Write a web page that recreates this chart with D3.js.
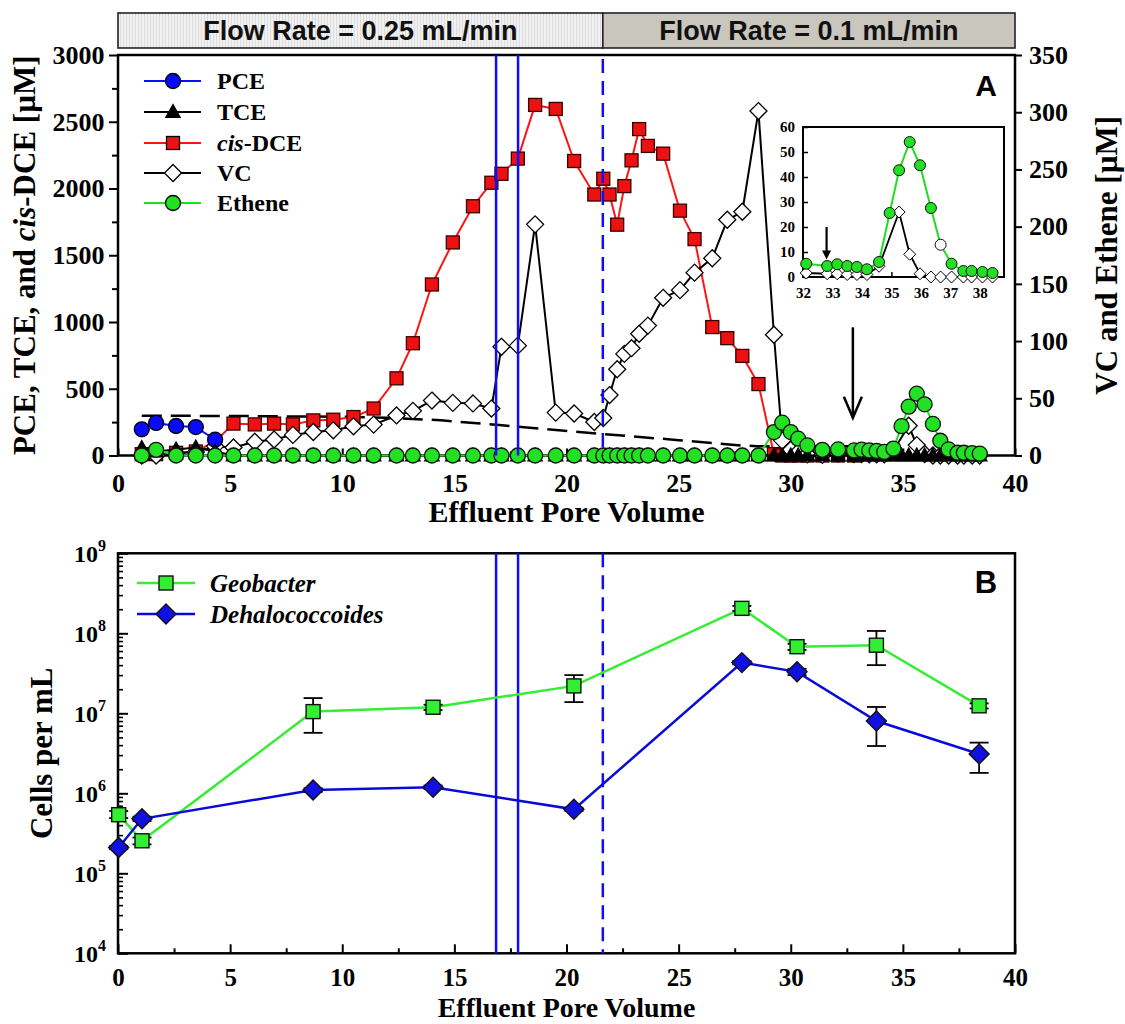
<!DOCTYPE html>
<html><head><meta charset="utf-8">
<script src="https://cdn.jsdelivr.net/npm/d3@7"></script>
<style>body{margin:0;background:#fff}</style>
</head><body>
<svg id="chart" width="1125" height="1024"></svg>
<script>
// ---------------- DATA ----------------
// Panel A sample positions (effluent pore volume)
const xs = [1.06,1.7,2.59,3.47,4.33,5.15,6.1,6.96,7.8,8.71,
  9.6,10.5,11.4,12.42,13.15,14.0,14.93,15.83,16.65,17.1,
  17.83,18.6,19.52,20.34,21.24,21.64,21.92,22.26,22.58,22.9,
  23.24,23.63,24.31,25.06,25.71,26.5,27.17,27.84,28.56,29.25,
  29.62,30.0,30.33,30.74,31.41,32.11,32.82,33.16,33.5,33.83,
  34.17,34.58,34.94,35.26,35.62,35.97,36.34,36.67,37.04,37.44,
  37.72,38.09,38.43];
const pceVals = [196,244,221,213,118];
const tceVals = [55,30,45,60,30,0,0,0,0,0,
  0,0,0,0,0,0,0,0,0,0, 0,0,0,0,0,0,0,0,0,0,
  0,0,0,0,0,0,0,0,0,0, 0,0,0,0,0,0,0,0,0,0,
  0,0,0,0,0,0,0,0,0,0, 0,0,0];
const dceVals = [10,10,20,30,105,239,233,239,233,263,
  268,288,352,578,841,1281,1596,1867,2043,2110,
  2224,2626,2596,2206,1955,2073,1955,1729,2018,2211,
  2445,2319,2261,1834,1621,962,879,746,535,10,
  0,0,0,0,0,0,0,null,null,null, null,null,null,null,null,null,null,null,null,null, null,null,null];
const vcVals = [0,0,2,3,8,7,12,14,18,20.5,
  22,25.5,27,35,39,48,46,45.5,41,95,
  96,202,37.5,36.7,29.3,32.8,52.8,75.4,88.8,93.8,
  106.4,113.5,137.8,144.5,159.8,172.4,206,213,301,105.5,
  13,5,3,1,0.5,1.6,1.3,1.3,1,1,
  1,4.3,null,26,9.1,1.3,0,0,0,0, 0,0,0];
const etheneVals = [0,5,0,0,0,0,0,0,0,0,
  0,0,0,0,0,0,0,0,0,0, 0,0,0,0,0,0,0,0,0,0,
  0,0,0,0,0,0,0,0,0,20.5,
  28.7,20.5,14.7,8.8,5,5.3,4.4,5.1,4.4,4.0,
  3.1,6.0,25.6,42.7,54,44.7,27.6,12.9,5.3,2.4,
  2.4,2.0,1.6];
const dashX = [1.06,5,10,12,14.4,17,21.5,25,27.8,28.5,34.6];
const dashY = [298,296,290,282,264,228,163,115,75,70,70];
const solidLinesX = [16.86,17.84];
const flowChangeX = 21.62;
const flowLabels = ["Flow Rate = 0.25 mL/min","Flow Rate = 0.1 mL/min"];
const arrowMainX = 32.77, arrowMainY = [112,33];
const arrowInsetX = 32.8, arrowInsetY = [20,7];
const insetOpenX = [36.67];
const leftTicks = [0,500,1000,1500,2000,2500,3000];
const leftMinor = [250,750,1250,1750,2250,2750];
const rightTicks = [0,50,100,150,200,250,300,350];
const xTicks = [0,5,10,15,20,25,30,35,40];
const xMinor = [2.5,7.5,12.5,17.5,22.5,27.5,32.5,37.5];
const insetXTicks = [32,33,34,35,36,37,38];
const insetYTicks = [0,10,20,30,40,50,60];
const legendA = ["PCE","TCE","cis-DCE","VC","Ethene"];
// Panel B
const cellX = [0.03,1.07,8.7,14.05,20.33,27.82,30.28,33.82,38.4];
const geoVals = [5.4e5,2.55e5,1.05e7,1.19e7,2.2e7,2.05e8,6.8e7,7.1e7,1.24e7];
const geoLo   = [4.9e5,2.3e5,5.7e6,1.1e7,1.38e7,1.9e8,6.2e7,4.0e7,1.15e7];
const geoHi   = [6.0e5,2.8e5,1.55e7,1.28e7,3.0e7,2.2e8,7.4e7,1.07e8,1.33e7];
const dhcVals = [2.1e5,4.8e5,1.1e6,1.19e6,6.3e5,4.3e7,3.3e7,8.0e6,3.1e6];
const dhcLo   = [2.0e5,4.5e5,1.04e6,1.13e6,6.0e5,4.1e7,3.0e7,3.9e6,1.8e6];
const dhcHi   = [2.2e5,5.1e5,1.16e6,1.25e6,6.6e5,4.5e7,3.6e7,1.2e7,4.3e6];
const logTicks = [1e4,1e5,1e6,1e7,1e8,1e9];
const legendB = ["Geobacter","Dehalococcoides"];

// ---------------- SETUP ----------------
const SERIF = "'Liberation Serif','Times New Roman',serif";
const SANS = "'Liberation Sans',Arial,sans-serif";
const svg = d3.select("#chart");

const x = d3.scaleLinear().domain([0,40]).range([118,1015]);
const yL = d3.scaleLinear().domain([0,3000]).range([455.5,55]);
const yR = d3.scaleLinear().domain([0,350]).range([455.5,55]);
const yB = d3.scaleLog().domain([1e4,1e9]).range([953.3,553.3]);
const xI = d3.scaleLinear().domain([32,38.82]).range([803,1004]);
const yI = d3.scaleLinear().domain([0,60]).range([277,127]);

const C = {
  red:"#ff1414", redFill:"#ee1111", green:"#22dd22", greenFill:"#22e022",
  blue:"#0c0cff", gGreen:"#33ee33", gBlue:"#0a0ad8"
};

function styleAxis(g, size){
  g.select(".domain").remove();
  g.selectAll(".tick line").attr("stroke","#000").attr("stroke-width",2);
  g.selectAll(".tick text").attr("font-family",SERIF).attr("font-weight","bold")
    .attr("font-size",size).attr("fill","#000");
}

function pts(xv, yv){
  const out=[];
  for(let i=0;i<yv.length;i++){ if(yv[i]!==null && yv[i]!==undefined) out.push([xv[i],yv[i]]); }
  return out;
}

function drawMarker(g, type, cx, cy, s, fill, stroke, sw){
  let el;
  if(type==="circle") el = g.append("circle").attr("cx",cx).attr("cy",cy).attr("r",s);
  else if(type==="square") el = g.append("rect").attr("x",cx-s).attr("y",cy-s).attr("width",2*s).attr("height",2*s);
  else if(type==="diamond") el = g.append("path").attr("d",`M${cx},${cy-s}L${cx+s},${cy}L${cx},${cy+s}L${cx-s},${cy}Z`);
  else if(type==="triangle") el = g.append("path").attr("d",`M${cx},${cy-s}L${cx+s*0.95},${cy+s*0.7}L${cx-s*0.95},${cy+s*0.7}Z`);
  el.attr("fill",fill).attr("stroke",stroke).attr("stroke-width",sw||1.3);
  return el;
}

function series(g, data, xs_, ys_, color, lw, type, s, fill, stroke){
  const line = d3.line().x(d=>xs_(d[0])).y(d=>ys_(d[1]));
  g.append("path").datum(data).attr("d",line).attr("fill","none")
    .attr("stroke",color).attr("stroke-width",lw).attr("stroke-linejoin","round");
  data.forEach(d=>drawMarker(g,type,xs_(d[0]),ys_(d[1]),s,fill,stroke));
}

// ---------------- BANNER ----------------
const defs = svg.append("defs");
const pat = defs.append("pattern").attr("id","stripes").attr("patternUnits","userSpaceOnUse")
  .attr("width",3).attr("height",10);
pat.append("rect").attr("width",3).attr("height",10).attr("fill","#f1f1f1");
pat.append("line").attr("x1",0.5).attr("x2",0.5).attr("y1",0).attr("y2",10).attr("stroke","#dcdcdc").attr("stroke-width",1);

svg.append("rect").attr("x",x(0)).attr("y",13).attr("width",x(flowChangeX)-x(0)).attr("height",35)
  .attr("fill","url(#stripes)").attr("stroke","#222").attr("stroke-width",1.6);
svg.append("rect").attr("x",x(flowChangeX)).attr("y",13).attr("width",x(40)-x(flowChangeX)).attr("height",35)
  .attr("fill","#c9c6be").attr("stroke","#222").attr("stroke-width",1.6);
[[x(0),x(flowChangeX)],[x(flowChangeX),x(40)]].forEach((r,i)=>{
  svg.append("text").attr("x",(r[0]+r[1])/2).attr("y",40).attr("text-anchor","middle")
    .attr("font-family",SANS).attr("font-weight","bold").attr("font-size",27).attr("fill","#111")
    .text(flowLabels[i]);
});

// ---------------- PANEL A ----------------
const gA = svg.append("g");
gA.append("rect").attr("x",x(0)).attr("y",yL(3000)).attr("width",x(40)-x(0)).attr("height",yL(0)-yL(3000))
  .attr("fill","none").attr("stroke","#000").attr("stroke-width",2.5);

let ax = gA.append("g").attr("transform",`translate(${x(0)},0)`)
  .call(d3.axisLeft(yL).tickValues(leftTicks).tickSize(9).tickPadding(4.5).tickFormat(d3.format("d")));
styleAxis(ax,26);
ax = gA.append("g").attr("transform",`translate(${x(0)},0)`)
  .call(d3.axisLeft(yL).tickValues(leftMinor).tickSize(6).tickFormat(""));
styleAxis(ax,26);
ax = gA.append("g").attr("transform",`translate(${x(40)},0)`)
  .call(d3.axisRight(yR).tickValues(rightTicks).tickSize(7).tickPadding(7).tickFormat(d3.format("d")));
styleAxis(ax,26);
ax = gA.append("g").attr("transform",`translate(0,${yL(0)})`)
  .call(d3.axisBottom(x).tickValues(xTicks).tickSizeInner(-7).tickSizeOuter(0).tickFormat(d3.format("d")));
styleAxis(ax,26);
ax.selectAll(".tick text").attr("y",36).attr("dy",null);
ax = gA.append("g").attr("transform",`translate(0,${yL(0)})`)
  .call(d3.axisBottom(x).tickValues(xMinor).tickSizeInner(-4).tickSizeOuter(0).tickFormat(""));
styleAxis(ax,26);

// dashed reference line
gA.append("path").datum(dashX.map((d,i)=>[d,dashY[i]]))
  .attr("d",d3.line().x(d=>x(d[0])).y(d=>yL(d[1])))
  .attr("fill","none").attr("stroke","#000").attr("stroke-width",2.5).attr("stroke-dasharray","20,9");

series(gA, pts(xs,dceVals), x, yL, C.red, 2, "square", 6.5, C.redFill, "#3a0000");
series(gA, pts(xs,vcVals), x, yR, "#000", 2, "diamond", 8.5, "#fff", "#000");
series(gA, pts(xs,pceVals), x, yL, C.blue, 2, "circle", 7.5, "#0a0aff", "#000");
series(gA, pts(xs,tceVals), x, yL, "#000", 2, "triangle", 7.5, "#000", "#000");
series(gA, pts(xs,etheneVals), x, yR, C.green, 2, "circle", 7.5, C.greenFill, "#111");

// vertical lines
solidLinesX.forEach(v=>{
  gA.append("line").attr("x1",x(v)).attr("x2",x(v)).attr("y1",yL(3000)).attr("y2",yL(0))
    .attr("stroke",C.blue).attr("stroke-width",2.5);
});
gA.append("line").attr("x1",x(flowChangeX)).attr("x2",x(flowChangeX)).attr("y1",yL(3000)+4).attr("y2",yL(0))
  .attr("stroke",C.blue).attr("stroke-width",2.5).attr("stroke-dasharray","14,8");

// main arrow
{
  const ax0 = x(arrowMainX), y0 = yR(arrowMainY[0]), y1 = yR(arrowMainY[1]);
  gA.append("line").attr("x1",ax0).attr("x2",ax0).attr("y1",y0).attr("y2",y1)
    .attr("stroke","#000").attr("stroke-width",2.5);
  gA.append("path").attr("d",`M${ax0-9},${y1-21}L${ax0},${y1}L${ax0+9},${y1-21}`)
    .attr("fill","none").attr("stroke","#000").attr("stroke-width",2.5);
}

// "A"
gA.append("text").attr("x",986).attr("y",96).attr("text-anchor","middle")
  .attr("font-family",SANS).attr("font-weight","bold").attr("font-size",30).text("A");

// inset
const gI = svg.append("g");
gI.append("rect").attr("x",xI(32)).attr("y",yI(60)).attr("width",xI(38.82)-xI(32)).attr("height",yI(0)-yI(60))
  .attr("fill","#fff").attr("stroke","#000").attr("stroke-width",2);
ax = gI.append("g").attr("transform",`translate(${xI(32)},0)`)
  .call(d3.axisLeft(yI).tickValues(insetYTicks).tickSize(-5).tickPadding(8).tickFormat(d3.format("d")));
styleAxis(ax,15); ax.selectAll(".tick line").attr("stroke-width",1.5);
ax = gI.append("g").attr("transform",`translate(0,${yI(0)})`)
  .call(d3.axisBottom(xI).tickValues(insetXTicks).tickSizeInner(-5).tickSizeOuter(0).tickFormat(d3.format("d")));
styleAxis(ax,15); ax.selectAll(".tick line").attr("stroke-width",1.5);
ax.selectAll(".tick text").attr("y",21).attr("dy",null);

const inDom = d=>d[0]>=32 && d[0]<=38.82;
{
  const vcIn = pts(xs,vcVals).filter(inDom);
  const etIn = pts(xs,etheneVals).filter(inDom);
  const line = d3.line().x(d=>xI(d[0])).y(d=>yI(d[1]));
  gI.append("path").datum(vcIn).attr("d",line).attr("fill","none").attr("stroke","#000").attr("stroke-width",1.8);
  vcIn.forEach(d=>drawMarker(gI,"diamond",xI(d[0]),yI(d[1]),6,"#fff","#000",1));
  gI.append("path").datum(etIn).attr("d",line).attr("fill","none").attr("stroke",C.green).attr("stroke-width",2);
  etIn.forEach(d=>{
    const open = insetOpenX.some(o=>Math.abs(o-d[0])<0.01);
    drawMarker(gI,"circle",xI(d[0]),yI(d[1]),5.5,open?"#fff":C.greenFill,"#111",1);
  });
  const axx = xI(arrowInsetX), ya = yI(arrowInsetY[0]), yb = yI(arrowInsetY[1]);
  gI.append("line").attr("x1",axx).attr("x2",axx).attr("y1",ya).attr("y2",yb-6).attr("stroke","#000").attr("stroke-width",2.2);
  gI.append("path").attr("d",`M${axx-4.5},${yb-9}L${axx},${yb}L${axx+4.5},${yb-9}Z`).attr("fill","#000");
}

// legend A
{
  const rows = [81,112,143,173,203];
  const specs = [
    {c:C.blue,t:"circle",s:7.5,f:"#0a0aff"},
    {c:"#000",t:"triangle",s:7.5,f:"#000"},
    {c:C.red,t:"square",s:6.5,f:C.redFill},
    {c:"#000",t:"diamond",s:8.5,f:"#fff"},
    {c:C.green,t:"circle",s:7.5,f:C.greenFill}
  ];
  legendA.forEach((name,i)=>{
    const y = rows[i], sp = specs[i];
    gA.append("line").attr("x1",144).attr("x2",201).attr("y1",y).attr("y2",y).attr("stroke",sp.c).attr("stroke-width",2);
    drawMarker(gA,sp.t,173,y,sp.s,sp.f,"#000");
    const t = gA.append("text").attr("x",217).attr("y",y+8).attr("font-family",SERIF)
      .attr("font-weight","bold").attr("font-size",24);
    if(name.startsWith("cis")){
      t.append("tspan").attr("font-style","italic").text("cis");
      t.append("tspan").text(name.slice(3));
    } else t.text(name);
  });
}

// axis titles A
{
  const t = svg.append("text").attr("transform",`translate(35,${(yL(0)+yL(3000))/2}) rotate(-90)`)
    .attr("text-anchor","middle").attr("font-family",SERIF).attr("font-weight","bold").attr("font-size",31);
  t.append("tspan").text("PCE, TCE, and ");
  t.append("tspan").attr("font-style","italic").text("cis");
  t.append("tspan").text("-DCE [\u00B5M]");
  svg.append("text").attr("transform",`translate(1117,${(yL(0)+yL(3000))/2}) rotate(-90)`)
    .attr("text-anchor","middle").attr("font-family",SERIF).attr("font-weight","bold").attr("font-size",31)
    .text("VC and Ethene [\u00B5M]");
  svg.append("text").attr("x",(x(0)+x(40))/2).attr("y",522).attr("text-anchor","middle")
    .attr("font-family",SERIF).attr("font-weight","bold").attr("font-size",30).text("Effluent Pore Volume");
}

// ---------------- PANEL B ----------------
const gB = svg.append("g");
gB.append("rect").attr("x",x(0)).attr("y",yB(1e9)).attr("width",x(40)-x(0)).attr("height",yB(1e4)-yB(1e9))
  .attr("fill","none").attr("stroke","#000").attr("stroke-width",2.5);
ax = gB.append("g").attr("transform",`translate(${x(0)},0)`)
  .call(d3.axisLeft(yB).tickValues(logTicks).tickSize(-10).tickFormat(""));
styleAxis(ax,24);
{
  const minor=[];
  for(let k=0;k<logTicks.length-1;k++) for(let m=2;m<=9;m++) minor.push(m*logTicks[k]);
  ax = gB.append("g").attr("transform",`translate(${x(0)},0)`)
    .call(d3.axisLeft(yB).tickValues(minor).tickSize(-5).tickFormat(""));
  styleAxis(ax,24); ax.selectAll(".tick line").attr("stroke-width",1.6);
}
logTicks.forEach(v=>{
  const t = gB.append("text").attr("x",106).attr("y",yB(v)+8.5).attr("text-anchor","end")
    .attr("font-family",SERIF).attr("font-weight","bold").attr("font-size",24);
  t.append("tspan").text("10");
  t.append("tspan").attr("dy",-11).attr("font-size",16).text(String(Math.round(Math.log10(v))));
});
ax = gB.append("g").attr("transform",`translate(0,${yB(1e4)})`)
  .call(d3.axisBottom(x).tickValues(xTicks).tickSizeInner(-9).tickSizeOuter(0).tickFormat(d3.format("d")));
styleAxis(ax,25);
ax.selectAll(".tick text").attr("y",33).attr("dy",null);
ax = gB.append("g").attr("transform",`translate(0,${yB(1e4)})`)
  .call(d3.axisBottom(x).tickValues(xMinor).tickSizeInner(-5).tickSizeOuter(0).tickFormat(""));
styleAxis(ax,25);

solidLinesX.forEach(v=>{
  gB.append("line").attr("x1",x(v)).attr("x2",x(v)).attr("y1",yB(1e9)).attr("y2",yB(1e4))
    .attr("stroke",C.blue).attr("stroke-width",2.5);
});
gB.append("line").attr("x1",x(flowChangeX)).attr("x2",x(flowChangeX)).attr("y1",yB(1e9)).attr("y2",yB(1e4))
  .attr("stroke",C.blue).attr("stroke-width",2.5).attr("stroke-dasharray","14,8");

function errSeries(vals, lo, hi, color, type, s, fill){
  const data = cellX.map((d,i)=>[d,vals[i],lo[i],hi[i]]);
  gB.append("path").datum(data).attr("d",d3.line().x(d=>x(d[0])).y(d=>yB(d[1])))
    .attr("fill","none").attr("stroke",color).attr("stroke-width",2.5);
  data.forEach(d=>{
    const cx=x(d[0]);
    gB.append("line").attr("x1",cx).attr("x2",cx).attr("y1",yB(d[2])).attr("y2",yB(d[3])).attr("stroke","#000").attr("stroke-width",1.8);
    [d[2],d[3]].forEach(v=>gB.append("line").attr("x1",cx-9.5).attr("x2",cx+9.5).attr("y1",yB(v)).attr("y2",yB(v)).attr("stroke","#000").attr("stroke-width",1.8));
  });
  data.forEach(d=>drawMarker(gB,type,x(d[0]),yB(d[1]),s,fill,"#111",1.4));
}
errSeries(geoVals,geoLo,geoHi,C.gGreen,"square",7,"#33ee33");
errSeries(dhcVals,dhcLo,dhcHi,C.gBlue,"diamond",10,"#1010e0");

gB.append("text").attr("x",986).attr("y",593).attr("text-anchor","middle")
  .attr("font-family",SANS).attr("font-weight","bold").attr("font-size",31).text("B");

// legend B
{
  const rows=[583,614];
  const specs=[{c:C.gGreen,t:"square",s:7,f:"#33ee33"},{c:C.gBlue,t:"diamond",s:10,f:"#1010e0"}];
  legendB.forEach((name,i)=>{
    const y=rows[i], sp=specs[i];
    gB.append("line").attr("x1",137).attr("x2",195).attr("y1",y).attr("y2",y).attr("stroke",sp.c).attr("stroke-width",2.5);
    drawMarker(gB,sp.t,166,y,sp.s,sp.f,"#111",1.4);
    gB.append("text").attr("x",210).attr("y",y+8.5).attr("font-family",SERIF).attr("font-weight","bold")
      .attr("font-style","italic").attr("font-size",25).text(name);
  });
}
svg.append("text").attr("transform",`translate(52,${(yB(1e4)+yB(1e9))/2}) rotate(-90)`)
  .attr("text-anchor","middle").attr("font-family",SERIF).attr("font-weight","bold").attr("font-size",31)
  .text("Cells per mL");
svg.append("text").attr("x",(x(0)+x(40))/2).attr("y",1017).attr("text-anchor","middle")
  .attr("font-family",SERIF).attr("font-weight","bold").attr("font-size",28).text("Effluent Pore Volume");
</script>
</body></html>
